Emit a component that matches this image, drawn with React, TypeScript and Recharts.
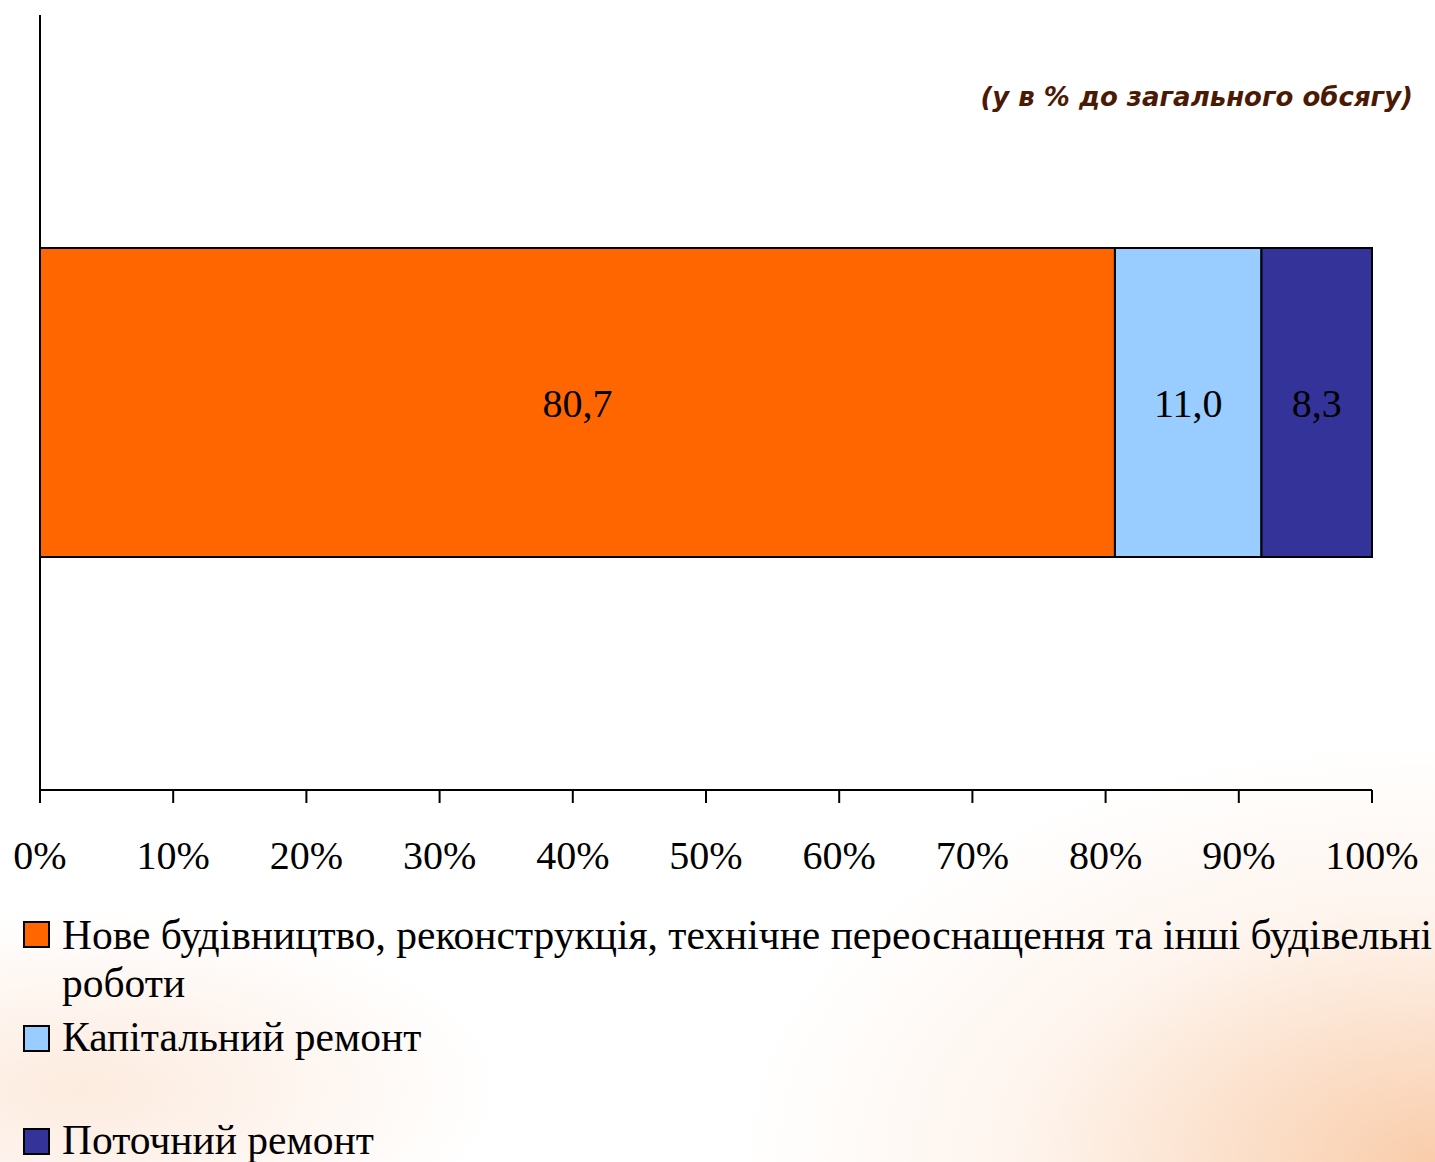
import React from 'react'
import { BarChart, Bar, XAxis, YAxis, LabelList } from 'recharts'

// одна категорія, три складові у % до загального обсягу
const categories = ['']
const seriesNames = [
  'Нове будівництво, реконструкція, технічне переоснащення та інші будівельні роботи',
  'Капітальний ремонт',
  'Поточний ремонт',
]
const seriesKeys = ['nove', 'kapital', 'potochnyi']
const seriesValues = [80.7, 11.0, 8.3]
const seriesColors = ['#FF6600', '#99CCFF', '#333399']
const xTicks = [0, 10, 20, 30, 40, 50, 60, 70, 80, 90, 100]

const data = categories.map((name) => {
  const row: { [key: string]: string | number } = { name }
  seriesKeys.forEach((k, i) => {
    row[k] = seriesValues[i]
  })
  return row
})

const serif = '"Liberation Serif", "Times New Roman", serif'

const formatValue = (v: any) => Number(v).toFixed(1).replace('.', ',')

// рядки легенди: верх тексту і верх квадрата
const legendTop = [911, 1013, 1116]
const swatchTop = [921, 1025, 1128]

export default function App() {
  return (
    <div
      style={{
        position: 'absolute',
        left: 0,
        top: 0,
        width: 1435,
        height: 1162,
        overflow: 'hidden',
        background:
          'radial-gradient(ellipse 700px 420px at 1435px 1162px, rgba(248,196,156,0.85), rgba(252,225,205,0.35) 60%, rgba(255,255,255,0) 100%),' +
          'radial-gradient(ellipse 420px 180px at 80px 1090px, rgba(250,215,190,0.5), rgba(255,255,255,0) 100%),' +
          '#ffffff',
        fontFamily: serif,
      }}
    >
      <BarChart
        width={1435}
        height={900}
        data={data}
        layout="vertical"
        margin={{ top: 15, right: 63, left: 0, bottom: 0 }}
        style={{ position: 'absolute', left: 0, top: 0 }}
      >
        <XAxis
          type="number"
          domain={[0, 100]}
          ticks={xTicks}
          interval={0}
          height={110}
          tickSize={13}
          tickMargin={38}
          tickFormatter={(v) => `${v}%`}
          axisLine={{ stroke: '#000', strokeWidth: 2 }}
          tickLine={{ stroke: '#000', strokeWidth: 2 }}
          tick={{ fill: '#000', fontSize: 40, fontFamily: serif }}
        />
        <YAxis
          type="category"
          dataKey="name"
          width={40}
          tick={false}
          tickLine={false}
          axisLine={{ stroke: '#000', strokeWidth: 2 }}
        />
        {seriesKeys.map((k, i) => (
          <Bar
            key={k}
            dataKey={k}
            name={seriesNames[i]}
            stackId="a"
            fill={seriesColors[i]}
            stroke="#000"
            strokeWidth={2}
            barSize={309}
            isAnimationActive={false}
          >
            <LabelList
              dataKey={k}
              position="center"
              formatter={formatValue}
              fill="#000"
              fontSize={40}
              fontFamily={serif}
            />
          </Bar>
        ))}
      </BarChart>

      <div
        style={{
          position: 'absolute',
          right: 22,
          top: 82,
          fontFamily: '"DejaVu Sans", Arial, sans-serif',
          fontWeight: 900,
          fontStyle: 'italic',
          fontSize: 26,
          color: '#4A1A04',
          whiteSpace: 'nowrap',
        }}
      >
        (у в % до загального обсягу)
      </div>

      {seriesNames.map((name, i) => (
        <React.Fragment key={name}>
          <div
            style={{
              position: 'absolute',
              left: 23,
              top: swatchTop[i],
              width: 23,
              height: 23,
              border: '2px solid #000',
              background: seriesColors[i],
            }}
          />
          <div
            style={{
              position: 'absolute',
              left: 62,
              top: legendTop[i],
              width: 1400,
              fontSize: 41.5,
              lineHeight: '48px',
              color: '#000',
              fontFamily: serif,
            }}
          >
            {name}
          </div>
        </React.Fragment>
      ))}
    </div>
  )
}
